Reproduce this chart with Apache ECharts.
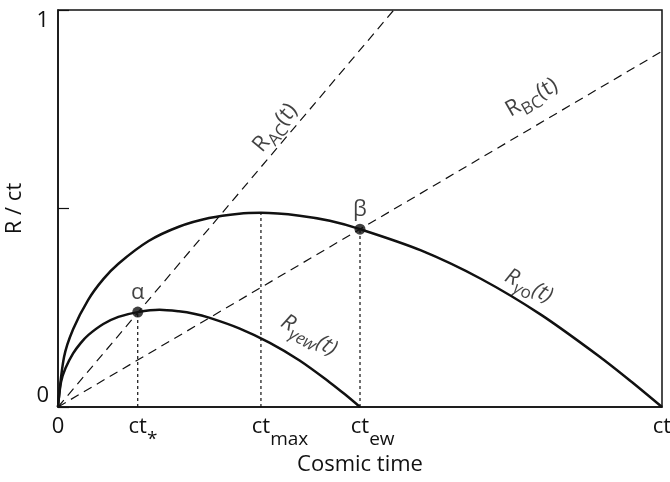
<!DOCTYPE html>
<html>
<head>
<meta charset="utf-8">
<script src="https://cdn.jsdelivr.net/npm/echarts@6/dist/echarts.min.js"></script>
<style>html,body{margin:0;padding:0;background:#fff}#c{width:670px;height:482px}</style>
</head>
<body>
<div id="c"></div>
<script>
// ---- data ----
const xTickValues = [0, 0.132, 0.336, 0.5, 1];
const xTickMain   = ['0', 'ct', 'ct', 'ct', 'ct'];
const xTickSub    = ['', '*', 'max', 'ew', ''];
const yTickLabels = {0: '0', 0.5: '', 1: '1'};

// R_γo(t)
const outerX = [0, 0.010, 0.025, 0.050, 0.075, 0.100, 0.150, 0.200, 0.250, 0.300, 0.336, 0.400, 0.450, 0.500, 0.600, 0.700, 0.800, 0.900, 0.950, 1];
const outerY = [0, 0.126, 0.196, 0.270, 0.322, 0.361, 0.418, 0.454, 0.476, 0.487, 0.489, 0.482, 0.469, 0.448, 0.395, 0.323, 0.232, 0.123, 0.063, 0];
// R_γew(t)
const innerX = [0, 0.005, 0.0125, 0.025, 0.0375, 0.050, 0.075, 0.100, 0.132, 0.168, 0.200, 0.225, 0.250, 0.300, 0.350, 0.400, 0.450, 0.475, 0.5];
const innerY = [0, 0.063, 0.098, 0.135, 0.161, 0.181, 0.209, 0.227, 0.239, 0.245, 0.241, 0.235, 0.225, 0.198, 0.162, 0.117, 0.062, 0.032, 0];
// straight dashed lines
const acX = [0, 0.556], acY = [0, 1];
const bcX = [0, 1],     bcY = [0, 0.896];
// special points
const pointNames = ['α', 'β'];
const pointX = [0.132, 0.5];
const pointY = [0.239, 0.448];
// dotted drop lines (x, top)
const dropX = [0.132, 0.336, 0.5];
const dropTop = [0.239, 0.489, 0.448];
// curve annotations
const annoText = ['{r|R}{sb|AC}{r|(t)}', '{r|R}{sb|BC}{r|(t)}', '{ri|R}{sgi|γ}{sb|o}{ri|(t)}', '{ri|R}{sgi|γ}{sbi|ew}{ri|(t)}'];
const annoX = [0.362, 0.786, 0.778, 0.414];
const annoY = [0.700, 0.775, 0.300, 0.176];
const annoRot = [50, 30, -27, -30];

// ---- build ----
const zip = (xs, ys) => xs.map((x, i) => [x, ys[i]]);
const ink = '#111';
const FONT = 'Open Sans';

const richCurve = {
  r:   {fontFamily: FONT, fontSize: 22, color: ink, verticalAlign: 'top', lineHeight: 26},
  ri:  {fontFamily: FONT, fontSize: 22, color: ink, fontStyle: 'italic', verticalAlign: 'top', lineHeight: 26},
  sb:  {fontFamily: FONT, fontSize: 17, color: ink, verticalAlign: 'top', padding: [10, 0, 0, 0], lineHeight: 20},
  sbi: {fontFamily: FONT, fontSize: 17, color: ink, fontStyle: 'italic', verticalAlign: 'top', padding: [10, 0, 0, 0], lineHeight: 20},
  sgi: {fontFamily: FONT, fontSize: 17, color: ink, fontStyle: 'italic', verticalAlign: 'top', padding: [10, 0, 0, 0], lineHeight: 20}
};

const series = [];
series.push({type: 'line', data: zip(outerX, outerY), smooth: 0.3, symbol: 'none', lineStyle: {color: ink, width: 2.5}, z: 5});
series.push({type: 'line', data: zip(innerX, innerY), smooth: 0.3, symbol: 'none', lineStyle: {color: ink, width: 2.5}, z: 5});
series.push({type: 'line', data: zip(acX, acY), symbol: 'none', lineStyle: {color: ink, width: 1.2, type: [9, 6]}});
series.push({type: 'line', data: zip(bcX, bcY), symbol: 'none', lineStyle: {color: ink, width: 1.2, type: [9, 6]}});
dropX.forEach((x, i) => {
  series.push({type: 'line', data: [[x, 0], [x, dropTop[i]]], symbol: 'none', lineStyle: {color: ink, width: 1.2, type: [3, 3]}});
});
series.push({
  type: 'scatter', symbolSize: 11, itemStyle: {color: ink}, z: 10,
  data: pointNames.map((n, i) => ({name: n, value: [pointX[i], pointY[i]]})),
  label: {show: true, position: 'top', distance: 3, formatter: p => p.name, fontFamily: FONT, fontSize: 22, color: ink}
});
series.push({
  type: 'scatter', symbolSize: 0, z: 10,
  data: annoText.map((t, i) => ({value: [annoX[i], annoY[i]], label: {rotate: annoRot[i], formatter: t}})),
  label: {show: true, position: 'inside', align: 'center', verticalAlign: 'middle', rich: richCurve}
});

const richX = {
  c: {fontFamily: FONT, fontSize: 22, color: ink, verticalAlign: 'top', lineHeight: 26},
  s: {fontFamily: FONT, fontSize: 19, color: ink, verticalAlign: 'top', padding: [14, 0, 0, 0], lineHeight: 22},
  h: {fontFamily: FONT, fontSize: 19, color: 'rgba(0,0,0,0)', verticalAlign: 'top', padding: [14, 0, 0, 0], lineHeight: 22}
};

const option = {
  animation: false,
  backgroundColor: '#fff',
  grid: {left: 58, right: 8, top: 10, bottom: 75, outerBoundsMode: 'none', containLabel: false,
         show: true, borderColor: ink, borderWidth: 1.5},
  xAxis: {
    type: 'value', min: 0, max: 1,
    name: 'Cosmic time', nameLocation: 'middle', nameGap: 43,
    nameTextStyle: {fontFamily: FONT, fontSize: 22, color: ink},
    axisLine: {show: true, lineStyle: {color: ink, width: 1.5}},
    axisTick: {show: false},
    splitLine: {show: false},
    axisLabel: {
      customValues: xTickValues, margin: 9, rich: richX, hideOverlap: false,
      formatter: v => {
        const i = xTickValues.findIndex(t => Math.abs(t - v) < 1e-6);
        if (i < 0) return '';
        const sub = xTickSub[i];
        return sub ? `{h|${sub}}{c|${xTickMain[i]}}{s|${sub}}` : `{c|${xTickMain[i]}}`;
      }
    }
  },
  yAxis: {
    type: 'value', min: 0, max: 1, interval: 0.5,
    name: 'R / ct', nameLocation: 'middle', nameGap: 27, nameRotate: 90,
    nameTextStyle: {fontFamily: FONT, fontSize: 22, color: ink},
    axisLine: {show: true, lineStyle: {color: ink, width: 1.5}},
    axisTick: {show: true, inside: true, length: 11, lineStyle: {color: ink, width: 1.2}},
    splitLine: {show: false},
    axisLabel: {
      margin: 9, fontFamily: FONT, fontSize: 22, color: ink,
      verticalAlignMinLabel: 'bottom', verticalAlignMaxLabel: 'top',
      formatter: v => yTickLabels[v] !== undefined ? yTickLabels[v] : ''
    }
  },
  series
};

const chart = echarts.init(document.getElementById('c'), null, {renderer: 'canvas'});
chart.setOption(option);
</script>
</body>
</html>
